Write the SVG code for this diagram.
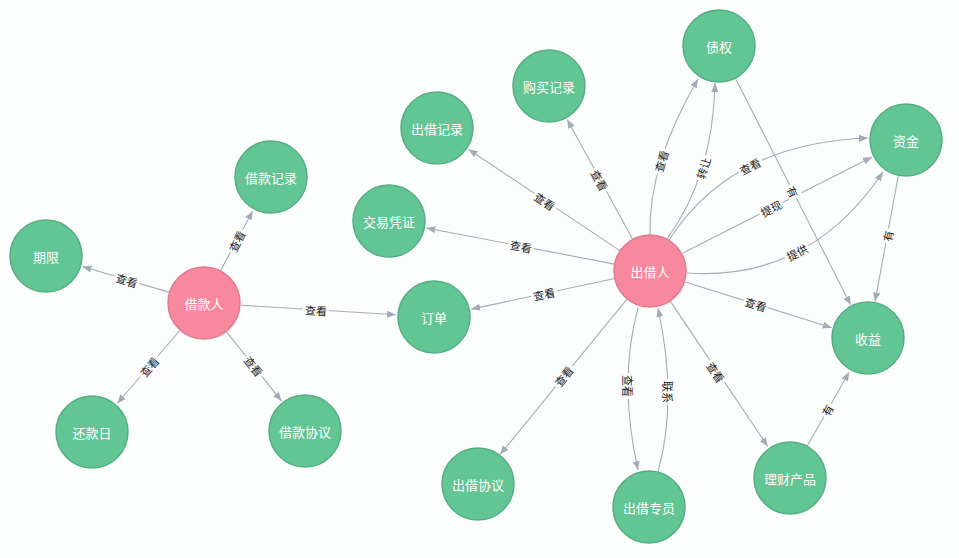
<svg xmlns="http://www.w3.org/2000/svg" width="959" height="558" viewBox="0 0 959 558">
<defs>
<marker id="arr" viewBox="0 0 10 8" refX="10" refY="4" markerWidth="9" markerHeight="7.2" orient="auto" markerUnits="userSpaceOnUse">
<path d="M0,0 L10,4 L0,8 z" fill="#A5ABB6"/>
</marker>
<style>
.e{fill:none;stroke:#A5ABB6;stroke-width:1.1;marker-end:url(#arr)}
.lb{fill:#FCFEFE}
.lt{font-family:"Noto Sans CJK SC","Noto Sans",sans-serif;font-size:11px;fill:#222;text-anchor:middle;dominant-baseline:central}
.g circle{fill:#62C594;stroke:#55AE82;stroke-width:1.5}
.p circle{fill:#F7889E;stroke:#E07A8F;stroke-width:1.5}
.nt{font-family:"Noto Sans CJK SC","Noto Sans",sans-serif;font-size:13px;fill:#FFFFFF;text-anchor:middle;dominant-baseline:central}
</style>
</defs>
<rect width="959" height="558" fill="#FCFEFE"/>
<g id="connectors">
<path class="e" d="M170.5,292.6 L82.4,266.5"/>
<g transform="translate(127,280) rotate(16.8)"><rect class="lb" x="-13" y="-7" width="26" height="14"/><text class="lt">查看</text></g>
<path class="e" d="M220.3,270.9 L252.8,210.9"/>
<g transform="translate(236.5,241) rotate(-63.1)"><rect class="lb" x="-13" y="-7" width="26" height="14"/><text class="lt">查看</text></g>
<path class="e" d="M180.2,330 L117.2,403.5"/>
<g transform="translate(149,366.5) rotate(-48.5)"><rect class="lb" x="-13" y="-7" width="26" height="14"/><text class="lt">查看</text></g>
<path class="e" d="M226.2,331.4 L281.6,401.1"/>
<g transform="translate(254,366) rotate(52)"><rect class="lb" x="-13" y="-7" width="26" height="14"/><text class="lt">查看</text></g>
<path class="e" d="M240.9,305.2 L396.1,314.7"/>
<g transform="translate(316,310) rotate(3.5)"><rect class="lb" x="-13" y="-7" width="26" height="14"/><text class="lt">查看</text></g>
<path class="e" d="M614.8,278.5 L471.2,309.1"/>
<g transform="translate(544,293.5) rotate(-12)"><rect class="lb" x="-13" y="-7" width="26" height="14"/><text class="lt">查看</text></g>
<path class="e" d="M614.6,264.1 L426.3,228"/>
<g transform="translate(521,246) rotate(11)"><rect class="lb" x="-13" y="-7" width="26" height="14"/><text class="lt">查看</text></g>
<path class="e" d="M620.1,250.9 L468.5,149.2"/>
<g transform="translate(545,201) rotate(33.9)"><rect class="lb" x="-13" y="-7" width="26" height="14"/><text class="lt">查看</text></g>
<path class="e" d="M632.8,239.4 L567.2,119.4"/>
<g transform="translate(600,180) rotate(61.4)"><rect class="lb" x="-13" y="-7" width="26" height="14"/><text class="lt">查看</text></g>
<path class="e" d="M650,235 Q648,165 698,79"/>
<g transform="translate(661,161) rotate(-72.9)"><rect class="lb" x="-13" y="-7" width="26" height="14"/><text class="lt">查看</text></g>
<path class="e" d="M667,239 Q713,176 715,83"/>
<g transform="translate(703,168) rotate(-72.5)"><rect class="lb" x="-13" y="-7" width="26" height="14"/><text class="lt">转让</text></g>
<path class="e" d="M669,240 Q731,143 868,138"/>
<g transform="translate(750,166) rotate(-27.3)"><rect class="lb" x="-13" y="-7" width="26" height="14"/><text class="lt">查看</text></g>
<path class="e" d="M683,253 Q766,211 872,157"/>
<g transform="translate(771,208) rotate(-26.9)"><rect class="lb" x="-13" y="-7" width="26" height="14"/><text class="lt">提现</text></g>
<path class="e" d="M687,273 Q809.5,281.5 883,172"/>
<g transform="translate(797,252) rotate(-27.3)"><rect class="lb" x="-13" y="-7" width="26" height="14"/><text class="lt">提供</text></g>
<path class="e" d="M735.3,78.1 L850.8,305.1"/>
<g transform="translate(793,191.6) rotate(63.1)"><rect class="lb" x="-7.5" y="-7" width="15" height="14"/><text class="lt">有</text></g>
<path class="e" d="M898.4,175.4 L875,301.6"/>
<g transform="translate(887.5,236) rotate(-79.5)"><rect class="lb" x="-7.5" y="-7" width="15" height="14"/><text class="lt">有</text></g>
<path class="e" d="M684.4,281.7 L831.7,327.7"/>
<g transform="translate(756,304) rotate(17.3)"><rect class="lb" x="-13" y="-7" width="26" height="14"/><text class="lt">查看</text></g>
<path class="e" d="M670.1,300.9 L767.8,446.5"/>
<g transform="translate(716,372) rotate(56.1)"><rect class="lb" x="-13" y="-7" width="26" height="14"/><text class="lt">查看</text></g>
<path class="e" d="M806.8,446.7 L849.2,372"/>
<g transform="translate(827,410) rotate(-60.4)"><rect class="lb" x="-7.5" y="-7" width="15" height="14"/><text class="lt">有</text></g>
<path class="e" d="M627.2,298.9 L500,454.6"/>
<g transform="translate(563.5,376) rotate(-50.8)"><rect class="lb" x="-13" y="-7" width="26" height="14"/><text class="lt">查看</text></g>
<path class="e" d="M638,308 Q618,381 638,470"/>
<g transform="translate(628,386) rotate(90)"><rect class="lb" x="-13" y="-7" width="26" height="14"/><text class="lt">查看</text></g>
<path class="e" d="M658,472 Q678,400 658,308"/>
<g transform="translate(668,392) rotate(90)"><rect class="lb" x="-13" y="-7" width="26" height="14"/><text class="lt">联系</text></g>
</g>
<g id="n-qixian" class="g"><circle cx="46" cy="256" r="36"/><text class="nt" x="46" y="256">期限</text></g>
<g id="n-jiekuanjilu" class="g"><circle cx="271" cy="177" r="36"/><text class="nt" x="271" y="177">借款记录</text></g>
<g id="n-jiekuanren" class="p"><circle cx="204" cy="303" r="36"/><text class="nt" x="204" y="303">借款人</text></g>
<g id="n-huankuanri" class="g"><circle cx="92" cy="432" r="36"/><text class="nt" x="92" y="432">还款日</text></g>
<g id="n-jiekuanxieyi" class="g"><circle cx="305" cy="431" r="36"/><text class="nt" x="305" y="431">借款协议</text></g>
<g id="n-dingdan" class="g"><circle cx="434" cy="317" r="36"/><text class="nt" x="434" y="317">订单</text></g>
<g id="n-jiaoyipingzheng" class="g"><circle cx="389" cy="221" r="36"/><text class="nt" x="389" y="221">交易凭证</text></g>
<g id="n-chujiejilu" class="g"><circle cx="437" cy="128" r="36"/><text class="nt" x="437" y="128">出借记录</text></g>
<g id="n-goumaijilu" class="g"><circle cx="549" cy="86" r="36"/><text class="nt" x="549" y="86">购买记录</text></g>
<g id="n-zhaiquan" class="g"><circle cx="719" cy="46" r="36"/><text class="nt" x="719" y="46">债权</text></g>
<g id="n-zijin" class="g"><circle cx="906" cy="140" r="36"/><text class="nt" x="906" y="140">资金</text></g>
<g id="n-chujieren" class="p"><circle cx="650" cy="271" r="36"/><text class="nt" x="650" y="271">出借人</text></g>
<g id="n-shouyi" class="g"><circle cx="868" cy="338" r="36"/><text class="nt" x="868" y="338">收益</text></g>
<g id="n-licaichanpin" class="g"><circle cx="790" cy="478" r="36"/><text class="nt" x="790" y="478">理财产品</text></g>
<g id="n-chujiezhuanyuan" class="g"><circle cx="649" cy="507" r="36"/><text class="nt" x="649" y="507">出借专员</text></g>
<g id="n-chujiexieyi" class="g"><circle cx="478" cy="484" r="36"/><text class="nt" x="478" y="484">出借协议</text></g>
</svg>
